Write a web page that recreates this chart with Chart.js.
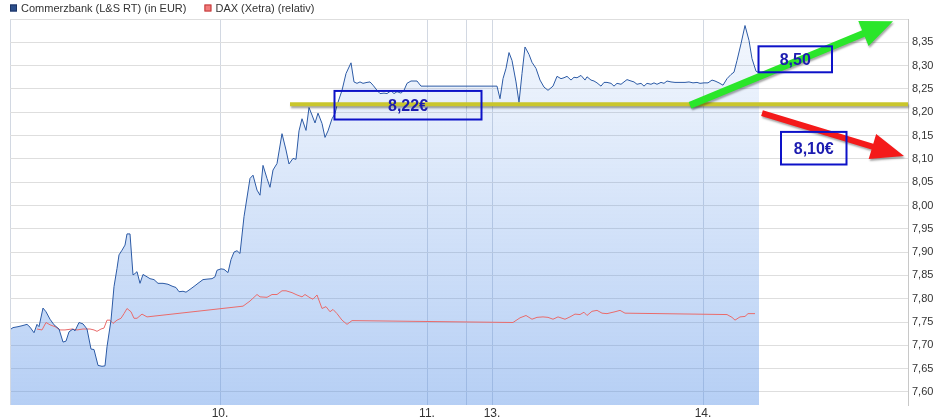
<!DOCTYPE html>
<html>
<head>
<meta charset="utf-8">
<script src="https://cdn.jsdelivr.net/npm/chart.js@4/dist/chart.umd.min.js"></script>
<style>
  html, body { margin: 0; padding: 0; background: #fff; }
</style>
</head>
<body>
<canvas id="grafico" width="936" height="420"></canvas>
<script>
// eje x = indice de tiempo (sesiones del 9. al 14.)
const tiempoCB = [
  1,3,8,12,17,20,24,27,29,33,
  36,40,44,49,53,56,59,63,65,69,
  73,77,81,84,88,92,95,97,101,104,
  107,109,112,115,117,120,123,125,127,130,
  133,137,140,144,148,153,158,162,166,169,
  173,176,180,185,188,193,197,202,205,207,
  211,214,218,221,224,227,230,234,240,243,
  247,250,253,257,260,263,267,272,276,279,
  283,286,289,292,296,299,302,305,308,312,
  315,318,322,325,327,332,336,341,344,347,
  350,353,357,360,363,367,370,374,377,381,
  384,387,391,394,397,401,407,411,487,490,
  493,496,499,502,506,509,512,515,519,522,
  526,530,534,538,543,547,551,554,557,561,
  564,567,571,575,577,581,584,587,591,594,
  597,601,604,607,611,614,617,621,624,627,
  631,634,637,641,644,647,651,654,657,661,
  665,670,675,679,683,687,690,694,698,702,
  705,709,713,717,721,724,727,731,735,739,
  742,746,749
]
const precioCB = [
  7.735,7.738,7.740,7.742,7.745,7.739,7.727,7.745,7.740,7.780,
  7.772,7.756,7.744,7.735,7.707,7.709,7.729,7.735,7.731,7.749,
  7.746,7.735,7.692,7.691,7.657,7.655,7.656,7.697,7.754,7.826,
  7.865,7.894,7.904,7.915,7.939,7.939,7.851,7.854,7.858,7.833,
  7.852,7.847,7.843,7.841,7.833,7.833,7.831,7.827,7.824,7.815,
  7.816,7.814,7.820,7.828,7.833,7.841,7.842,7.843,7.847,7.861,
  7.864,7.863,7.856,7.884,7.900,7.903,7.897,7.976,8.058,8.065,
  8.033,8.022,8.086,8.058,8.039,8.076,8.090,8.154,8.119,8.089,
  8.101,8.099,8.160,8.186,8.161,8.210,8.194,8.177,8.198,8.176,
  8.146,8.160,8.186,8.197,8.215,8.247,8.283,8.306,8.265,8.262,
  8.265,8.262,8.264,8.265,8.258,8.247,8.240,8.241,8.240,8.246,
  8.240,8.244,8.241,8.247,8.262,8.267,8.267,8.256,8.256,8.229,
  8.272,8.294,8.328,8.311,8.265,8.221,8.283,8.340,8.324,8.307,
  8.294,8.269,8.254,8.247,8.256,8.277,8.272,8.274,8.277,8.269,
  8.275,8.274,8.279,8.269,8.276,8.269,8.267,8.263,8.256,8.264,
  8.264,8.262,8.256,8.262,8.260,8.265,8.270,8.267,8.265,8.260,
  8.262,8.256,8.262,8.260,8.263,8.260,8.264,8.262,8.267,8.265,
  8.264,8.264,8.264,8.265,8.263,8.264,8.262,8.263,8.263,8.269,
  8.267,8.263,8.258,8.272,8.281,8.286,8.311,8.347,8.386,8.354,
  8.315,8.288,8.285
]
const tiempoDAX = [
  27,32,36,40,45,50,55,62,67,73,
  80,84,87,91,94,97,100,103,107,111,
  114,117,121,124,127,132,137,233,240,247,
  250,257,262,267,272,276,282,287,292,295,
  300,303,307,312,316,320,323,327,332,337,
  342,503,510,516,522,527,533,538,543,548,
  555,560,565,570,574,577,582,587,592,597,
  605,610,615,717,722,725,730,735,738,745
]
// DAX relativo, en la escala del precio
const valorDAX = [
  7.735,7.733,7.749,7.744,7.740,7.733,7.733,7.735,7.733,7.735,
  7.735,7.733,7.730,7.735,7.737,7.754,7.754,7.747,7.754,7.758,
  7.768,7.779,7.772,7.758,7.758,7.767,7.761,7.784,7.795,7.809,
  7.804,7.803,7.809,7.809,7.817,7.817,7.813,7.808,7.804,7.809,
  7.802,7.799,7.808,7.779,7.783,7.772,7.777,7.768,7.754,7.745,
  7.753,7.749,7.759,7.764,7.756,7.760,7.761,7.760,7.756,7.761,
  7.756,7.761,7.767,7.766,7.771,7.764,7.773,7.775,7.769,7.768,
  7.772,7.775,7.769,7.766,7.760,7.754,7.761,7.762,7.768,7.768
]
const marcasDias = [0, 210, 417, 456, 482, 693]
const etiquetasDias = ['', '10.', '11.', '', '13.', '14.']
const marcasPrecio = [7.60,7.65,7.70,7.75,7.80,7.85,7.90,7.95,8.00,8.05,8.10,8.15,8.20,8.25,8.30,8.35,8.40]

const fuente = '"Liberation Sans", Arial, sans-serif'

//leyenda dibujada arriba a la izquierda
const leyenda = {
  id: 'leyenda',
  afterDraw(chart) {
    const ctx = chart.ctx
    ctx.save()
    ctx.font = '11px ' + fuente
    ctx.textBaseline = 'middle'
    let x = 10
    chart.data.datasets.forEach(ds => {
      ctx.fillStyle = ds.cajaRelleno
      ctx.fillRect(x, 4.5, 7, 7)
      ctx.strokeStyle = ds.cajaBorde
      ctx.lineWidth = 1
      ctx.strokeRect(x + 0.5, 5, 6, 6)
      ctx.fillStyle = '#333'
      ctx.fillText(ds.label, x + 11, 8.5)
      x += 11 + ctx.measureText(ds.label).width + 18
    })
    ctx.restore()
  }
}

function flecha(ctx, x0, y0, x1, y1, f) {
  const ang = Math.atan2(y1 - y0, x1 - x0)
  const largo = Math.hypot(x1 - x0, y1 - y0)
  ctx.save()
  ctx.translate(x0, y0)
  ctx.rotate(ang)
  ctx.fillStyle = f.color
  ctx.beginPath()
  ctx.moveTo(0, -f.ancho / 2)
  ctx.lineTo(largo - f.punta, -f.ancho / 2)
  ctx.lineTo(largo - f.punta, -f.alto / 2)
  ctx.lineTo(largo, 0)
  ctx.lineTo(largo - f.punta, f.alto / 2)
  ctx.lineTo(largo - f.punta, f.ancho / 2)
  ctx.lineTo(0, f.ancho / 2)
  ctx.closePath()
  ctx.fill()
  ctx.restore()
}

//linea de soporte, flechas y cajas con texto
const anotaciones = {
  id: 'anotaciones',
  afterDatasetsDraw(chart, args, opts) {
    const { ctx, scales: { x, y } } = chart
    const px = t => x.getPixelForValue(t)
    const py = v => y.getPixelForValue(v)
    ctx.save()
    ctx.shadowColor = 'rgba(0,0,0,0.35)'
    ctx.shadowOffsetX = 1
    ctx.shadowOffsetY = 2
    ctx.shadowBlur = 2
    const l = opts.linea
    ctx.strokeStyle = l.color
    ctx.lineWidth = l.grosor
    ctx.beginPath()
    ctx.moveTo(px(l.desde), py(l.valor))
    ctx.lineTo(px(l.hasta), py(l.valor))
    ctx.stroke()
    opts.flechas.forEach(f => flecha(ctx, px(f.t0), py(f.v0), px(f.t1), py(f.v1), f))
    ctx.shadowColor = 'transparent'
    opts.cajas.forEach(c => {
      const x0 = px(c.t0), x1 = px(c.t1), y0 = py(c.v0), y1 = py(c.v1)
      ctx.strokeStyle = '#0d12c8'
      ctx.lineWidth = 2
      ctx.strokeRect(x0, y0, x1 - x0, y1 - y0)
      ctx.fillStyle = '#1c1cb0'
      ctx.font = 'bold 16px ' + fuente
      ctx.textAlign = 'center'
      ctx.textBaseline = 'middle'
      ctx.fillText(c.texto, (x0 + x1) / 2, (y0 + y1) / 2 + 1)
    })
    ctx.restore()
  }
}

const degradado = (context) => {
  const { ctx, chartArea } = context.chart
  if (!chartArea) return 'rgba(80,140,230,0.25)'
  const g = ctx.createLinearGradient(0, chartArea.top, 0, chartArea.bottom)
  g.addColorStop(0, 'rgba(80,140,230,0.06)')
  g.addColorStop(1, 'rgba(80,140,230,0.42)')
  return g
}

const config = {
  type: 'line',
  data: {
    datasets: [
      {
        label: 'Commerzbank (L&S RT) (in EUR)',
        data: tiempoCB.map((t, i) => ({ x: t, y: precioCB[i] })),
        borderColor: '#2c5aa5',
        borderWidth: 1,
        backgroundColor: degradado,
        fill: 'start',
        pointRadius: 0,
        tension: 0,
        cajaRelleno: '#2c4f8c',
        cajaBorde: '#1c3566'
      },
      {
        label: 'DAX (Xetra) (relativ)',
        data: tiempoDAX.map((t, i) => ({ x: t, y: valorDAX[i] })),
        borderColor: '#e96b6b',
        borderWidth: 1,
        fill: false,
        pointRadius: 0,
        tension: 0,
        cajaRelleno: '#f27a7a',
        cajaBorde: '#c03c3c'
      }
    ]
  },
  options: {
    responsive: false,
    animation: false,
    layout: { padding: { top: 19, left: 10, right: 0, bottom: 0 } },
    plugins: {
      legend: { display: false },
      tooltip: { enabled: false },
      filler: { drawTime: 'beforeDatasetsDraw' },
      anotaciones: {
        linea: { desde: 280, hasta: 898, valor: 8.217, color: '#c9c62c', grosor: 4 },
        flechas: [
          { t0: 680, v0: 8.215, t1: 883, v1: 8.395, color: '#2ae62a', ancho: 7, punta: 32, alto: 27 },
          { t0: 752, v0: 8.198, t1: 894, v1: 8.106, color: '#f41a1a', ancho: 6, punta: 33, alto: 26 }
        ],
        cajas: [
          { texto: '8,22€', t0: 324.5, t1: 471.5, v0: 8.2457, v1: 8.1844 },
          { texto: '8,50', t0: 748.5, t1: 822, v0: 8.3414, v1: 8.2857 },
          { texto: '8,10€', t0: 771, t1: 836.5, v0: 8.1578, v1: 8.0879 }
        ]
      }
    },
    scales: {
      x: {
        type: 'linear',
        min: 0,
        max: 898,
        afterBuildTicks: s => { s.ticks = marcasDias.map(v => ({ value: v })) },
        afterFit: s => { s.height = 15 },
        ticks: {
          autoSkip: false,
          maxRotation: 0,
          padding: 1,
          color: '#333',
          font: { family: '"Liberation Sans Narrow", "Arial Narrow", ' + fuente, size: 12 },
          callback: v => etiquetasDias[marcasDias.indexOf(v)]
        },
        grid: { color: '#d2d8e2', drawTicks: false },
        border: { display: false }
      },
      y: {
        position: 'right',
        min: 7.572,
        max: 8.40,
        afterBuildTicks: s => { s.ticks = marcasPrecio.map(v => ({ value: v })) },
        afterFit: s => { s.width = 28 },
        ticks: {
          padding: 4,
          color: '#333',
          font: { family: fuente, size: 11 },
          callback: v => v >= 8.399 ? '' : v.toFixed(2).replace('.', ',')
        },
        grid: { color: '#dedede', drawTicks: false },
        border: { display: true, color: '#c8c8c8' }
      }
    }
  },
  plugins: [leyenda, anotaciones]
}

const grafico = new Chart(document.getElementById('grafico'), config)
</script>
</body>
</html>
